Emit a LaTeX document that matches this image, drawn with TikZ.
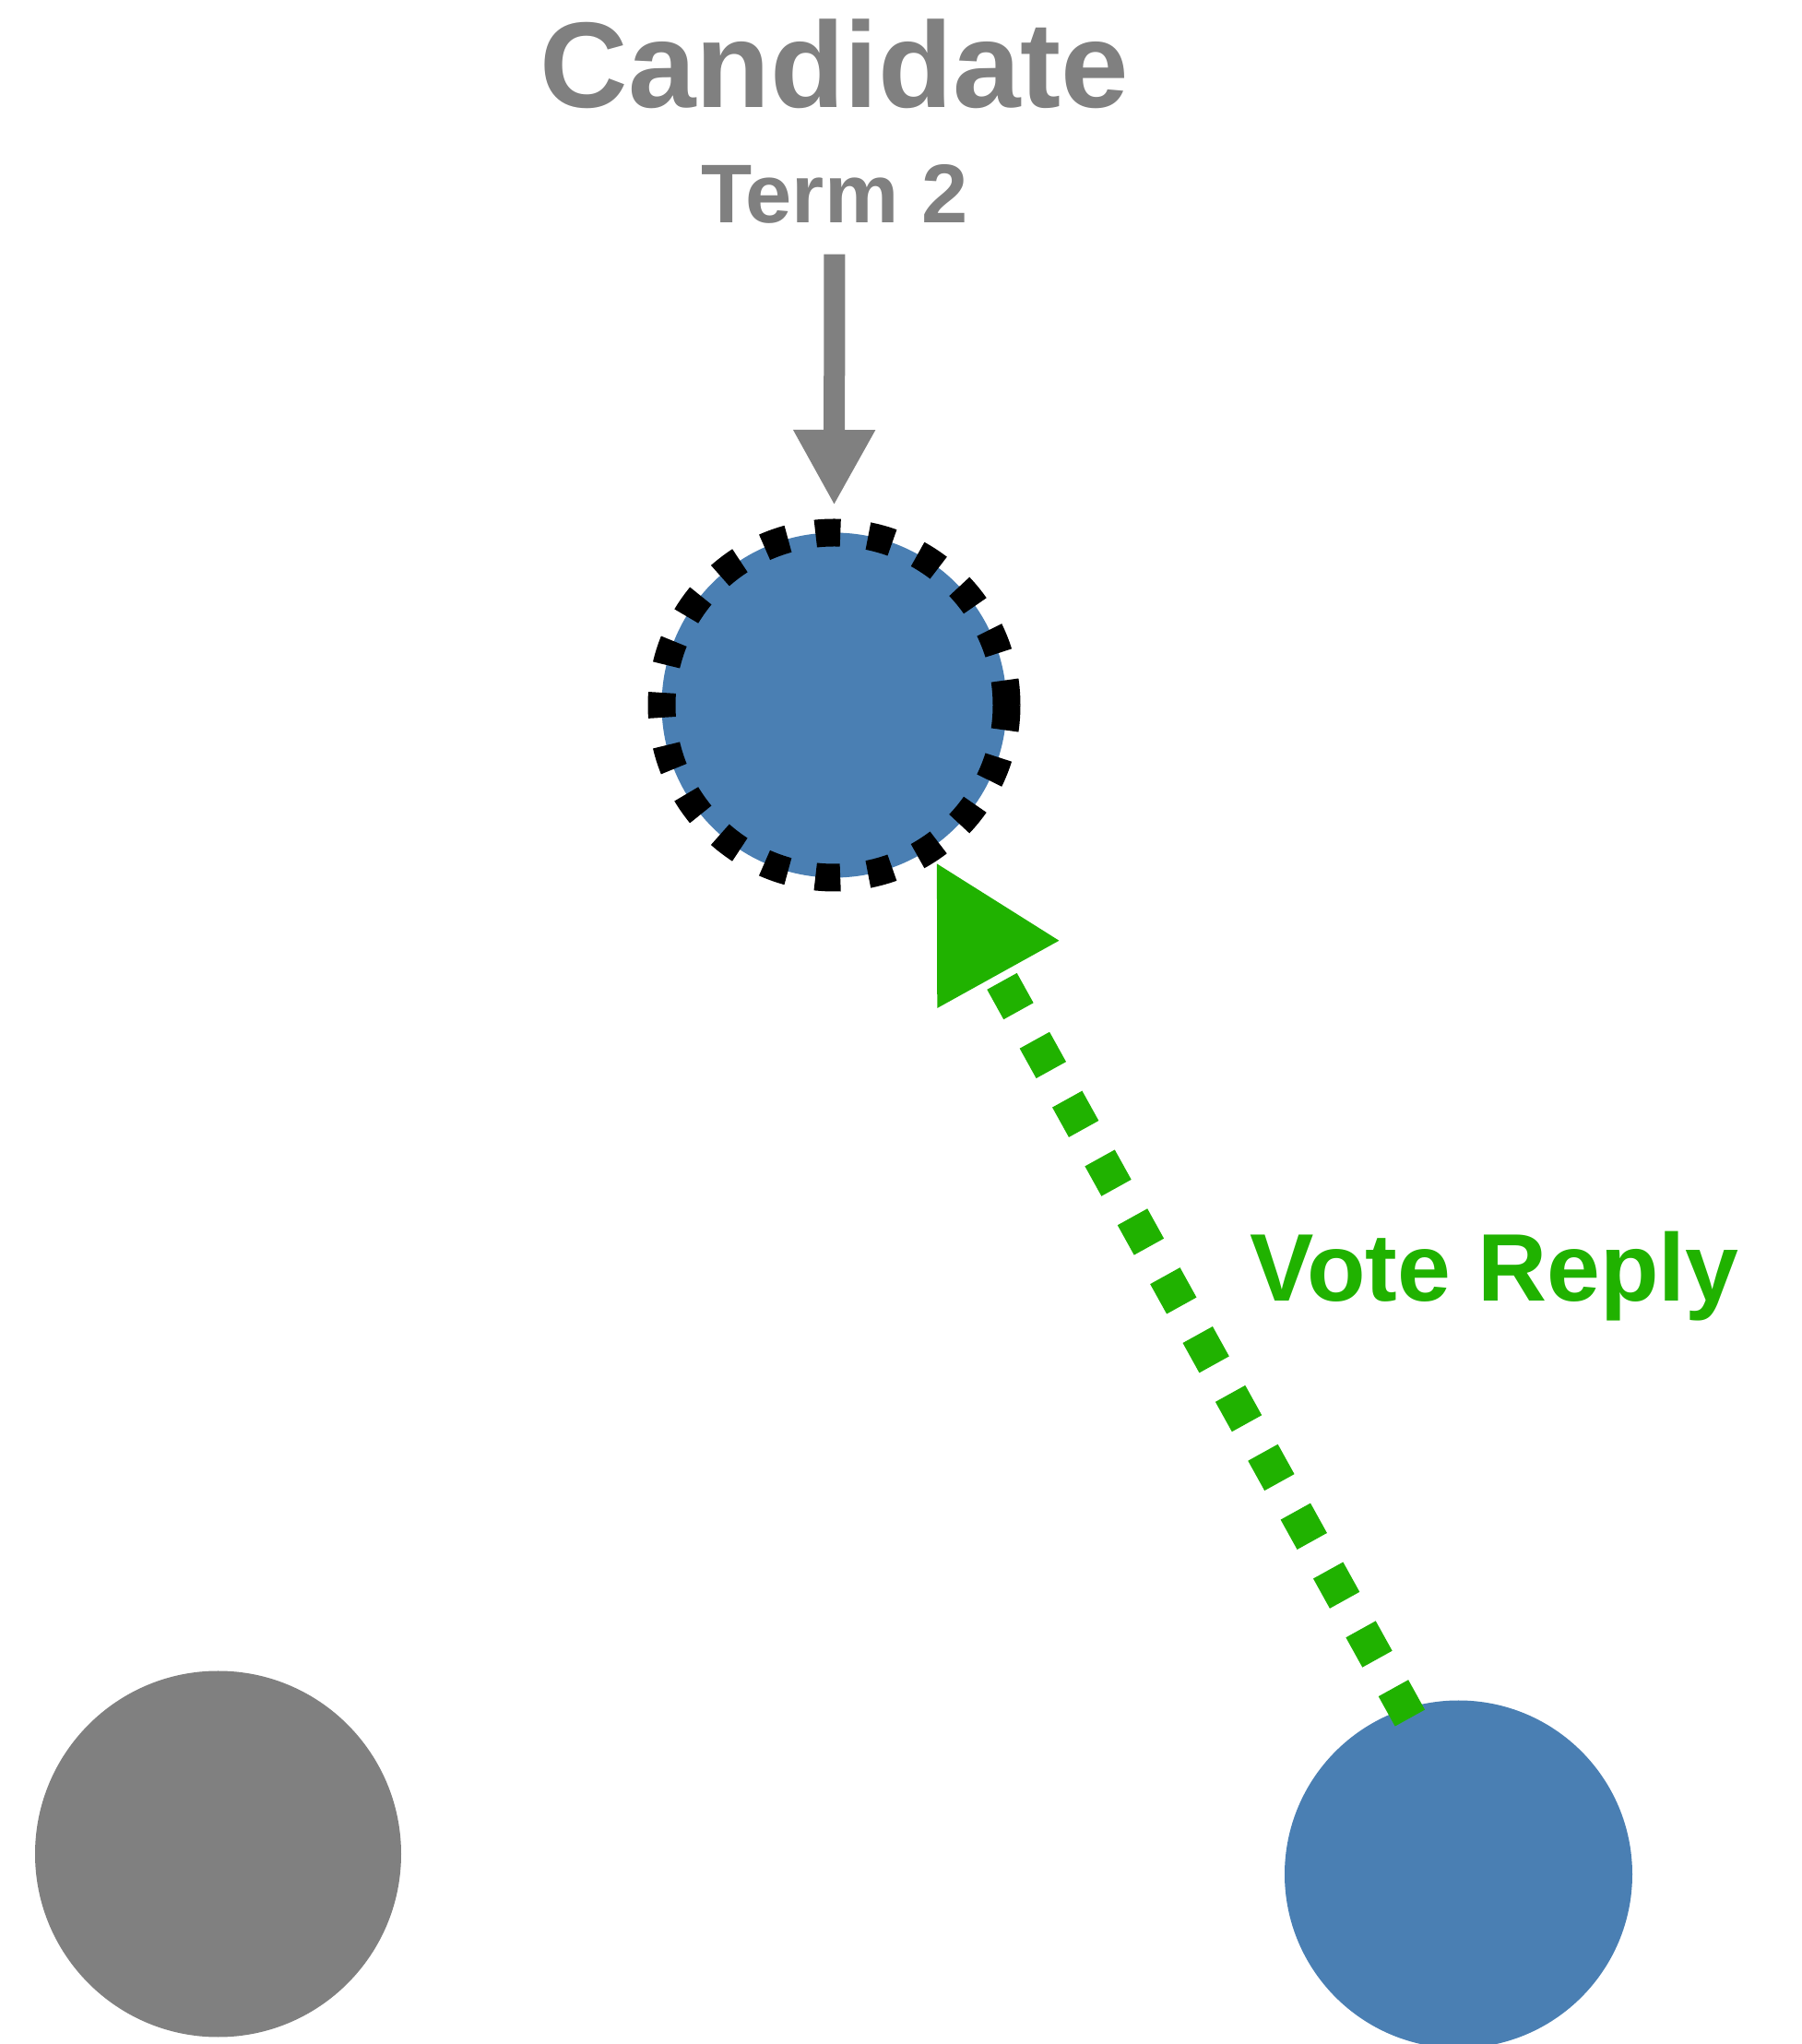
\documentclass[tikz,border=0pt]{standalone}
\usepackage{fontspec}
\setmainfont{Liberation Sans}
\usetikzlibrary{arrows.meta}
\definecolor{nodeblue}{RGB}{74,127,179}
\definecolor{nodegray}{RGB}{128,128,128}
\definecolor{replygreen}{RGB}{32,178,0}

\begin{document}
\begin{tikzpicture}[>=Triangle,
  server/.style={circle,inner sep=0pt},
  lbl/.style={inner sep=0pt,anchor=base}]
\useasboundingbox (0,0) rectangle (19.53,22.16);
\node[lbl,nodegray,font=\fontsize{37.6pt}{40pt}\selectfont\bfseries] (title) at (9.05,20.99) {Candidate};
\node[lbl,nodegray,font=\fontsize{25.7pt}{28pt}\selectfont\bfseries] (term) at (9.05,19.74) {Term 2};
\node[server,fill=nodeblue,draw=black,line width=.30cm,dash pattern=on .27cm off .304cm,minimum size=3.74cm] (cand) at (9.045,14.515) {};
\node[server,fill=nodegray,minimum size=3.97cm] (peer) at (2.365,2.06) {};
\node[server,fill=nodeblue,minimum size=3.77cm] (voter) at (15.815,1.84) {};
\draw[nodegray,line width=.23cm,-{Triangle[length=.82cm,width=.83cm]},shorten <=.32cm,shorten >=.145cm] (term.south)--(cand.north);
\draw[replygreen,line width=.37cm,dash pattern=on .37cm off .36cm,-{Triangle[length=1.4cm,width=1.4cm]},shorten <=-.12cm] (voter.108)--(cand.-57);
\node[lbl,anchor=base west,replygreen,font=\fontsize{29.6pt}{32pt}\selectfont\bfseries] (reply) at (13.55,8.05) {Vote Reply};
\end{tikzpicture}
\end{document}
